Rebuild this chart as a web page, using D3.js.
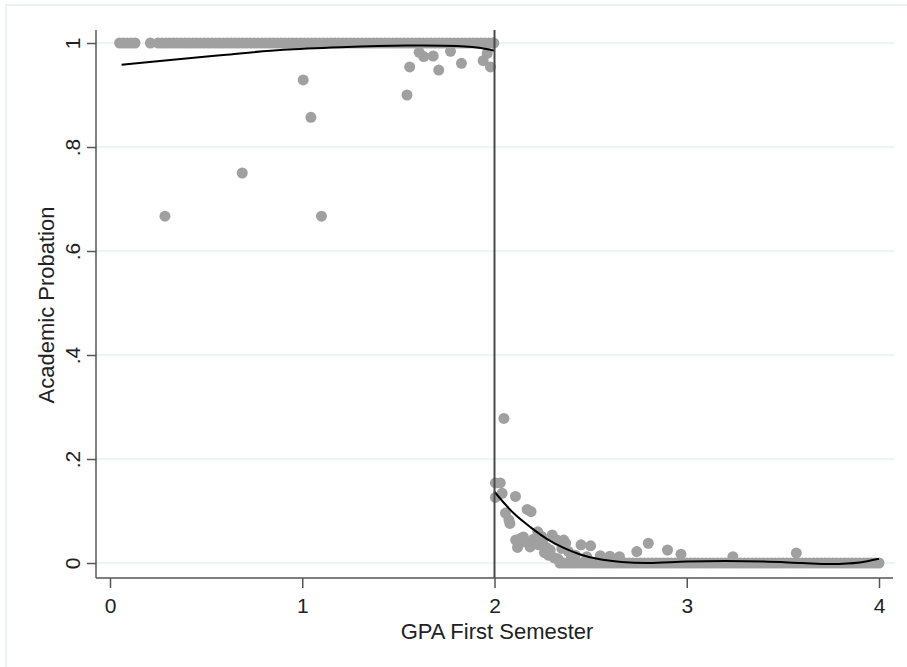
<!DOCTYPE html>
<html>
<head>
<meta charset="utf-8">
<script src="https://cdn.jsdelivr.net/npm/d3@7"></script>
<style>
  html, body { margin: 0; padding: 0; background: #fff; }
  svg { display: block; }
  text { font-family: "Liberation Sans", Arial, sans-serif; fill: #222; }
</style>
</head>
<body>
<svg id="chart" width="907" height="667"></svg>
<script>
// ---------------- data ----------------
const xTicks = [0, 1, 2, 3, 4];
const xTickLabels = ["0", "1", "2", "3", "4"];
const yTicks = [0, 0.2, 0.4, 0.6, 0.8, 1];
const yTickLabels = ["0", ".2", ".4", ".6", ".8", "1"];
const xTitle = "GPA First Semester";
const yTitle = "Academic Probation";
const cutoff = 2;

// binned means, left of cutoff, all on probation (=1)
const leftOnesX = [0.05, 0.07, 0.09, 0.11, 0.13, 0.21,
  0.25, 0.27, 0.29, 0.31, 0.33, 0.35, 0.37, 0.39, 0.41, 0.43, 0.45, 0.47, 0.49,
  0.51, 0.53, 0.55, 0.57, 0.59, 0.61, 0.63, 0.65, 0.67, 0.69, 0.71, 0.73, 0.75,
  0.77, 0.79, 0.81, 0.83, 0.85, 0.87, 0.89, 0.91, 0.93, 0.95, 0.97, 0.99, 1.01,
  1.03, 1.05, 1.07, 1.09, 1.11, 1.13, 1.15, 1.17, 1.19, 1.21, 1.23, 1.25, 1.27,
  1.29, 1.31, 1.33, 1.35, 1.37, 1.39, 1.41, 1.43, 1.45, 1.47, 1.49, 1.51, 1.53,
  1.55, 1.57, 1.59, 1.61, 1.63, 1.65, 1.67, 1.69, 1.71, 1.73, 1.75, 1.77, 1.79,
  1.81, 1.83, 1.85, 1.87, 1.89, 1.91, 1.93, 1.95, 1.97, 1.99];
const leftOnesY = leftOnesX.map(() => 1);

// binned means, left of cutoff, below one
const leftOtherX = [0.286, 0.688, 1.005, 1.045, 1.100, 1.545, 1.559, 1.608, 1.632,
  1.681, 1.710, 1.771, 1.828, 1.941, 1.962, 1.979, 1.996];
const leftOtherY = [0.667, 0.750, 0.929, 0.857, 0.667, 0.900, 0.954, 0.982, 0.974,
  0.975, 0.948, 0.984, 0.961, 0.966, 0.980, 0.954, 1.000];

// binned means, right of cutoff
const rightX = [2.005, 2.030, 2.005, 2.040, 2.049, 2.109, 2.057, 2.075, 2.080, 2.170,
  2.190, 2.110, 2.135, 2.160, 2.185, 2.210, 2.120, 2.150, 2.225, 2.245, 2.280, 2.300,
  2.325, 2.360, 2.350, 2.385, 2.420, 2.450, 2.500, 2.270, 2.290, 2.400, 2.480, 2.550,
  2.600, 2.650, 2.740, 2.800, 2.900, 2.970, 3.240, 3.570, 2.200, 2.260, 2.310, 2.330,
  2.140, 2.230, 2.250, 2.370];
const rightY = [0.154, 0.154, 0.126, 0.134, 0.278, 0.128, 0.096, 0.083, 0.076, 0.103,
  0.099, 0.044, 0.047, 0.041, 0.031, 0.038, 0.030, 0.050, 0.060, 0.051, 0.015, 0.054,
  0.044, 0.044, 0.028, 0.022, 0.015, 0.035, 0.033, 0.030, 0.025, 0.010, 0.012, 0.014,
  0.013, 0.012, 0.022, 0.038, 0.025, 0.017, 0.012, 0.019, 0.045, 0.020, 0.010, 0.008,
  0.040, 0.035, 0.042, 0.038];

// right of cutoff, bins at zero
const rightZeroX = [2.34, 2.36, 2.38, 2.40, 2.42, 2.44, 2.46, 2.48, 2.50, 2.52, 2.54,
  2.56, 2.58, 2.60, 2.62, 2.64, 2.66, 2.68, 2.70, 2.72, 2.74, 2.76, 2.78, 2.80, 2.82,
  2.84, 2.86, 2.88, 2.90, 2.92, 2.94, 2.96, 2.98, 3.00, 3.02, 3.04, 3.06, 3.08, 3.10,
  3.12, 3.14, 3.16, 3.18, 3.20, 3.22, 3.24, 3.26, 3.28, 3.30, 3.32, 3.34, 3.36, 3.38,
  3.40, 3.42, 3.44, 3.46, 3.48, 3.50, 3.52, 3.54, 3.56, 3.58, 3.60, 3.62, 3.64, 3.66,
  3.68, 3.70, 3.72, 3.74, 3.76, 3.78, 3.80, 3.82, 3.84, 3.86, 3.88, 3.90, 3.92, 3.94,
  3.96, 3.98, 4.00];
const rightZeroY = rightZeroX.map(() => 0);

// local polynomial fits
const fitLeftX = [0.06, 0.30, 0.59, 0.90, 1.20, 1.545, 1.806, 1.95, 2.0];
const fitLeftY = [0.958, 0.967, 0.977, 0.987, 0.992, 0.995, 0.994, 0.989, 0.985];
const fitRightX = [2.0, 2.10, 2.19, 2.27, 2.36, 2.45, 2.535, 2.66, 2.80, 3.0, 3.2, 3.4, 3.6, 3.75, 3.9, 4.0];
const fitRightY = [0.137, 0.0955, 0.068, 0.047, 0.029, 0.016, 0.008, 0.002, 0.0, 0.003, 0.004, 0.003, 0.0, -0.002, 0.001, 0.008];

// ---------------- drawing ----------------
const svg = d3.select("#chart");

// outer graph region frame
svg.append("rect")
  .attr("x", 6).attr("y", 5).attr("width", 920).attr("height", 700)
  .attr("fill", "#fff").attr("stroke", "#e6eef0").attr("stroke-width", 1.5);

const plotLeft = 96, plotRight = 895, plotTop = 30, plotBottom = 578;

const x = d3.scaleLinear().domain([0, 4]).range([110, 879]);
const y = d3.scaleLinear().domain([0, 1]).range([563, 43]);

// gridlines
svg.append("g").selectAll("line").data(yTicks).join("line")
  .attr("x1", plotLeft).attr("x2", plotRight)
  .attr("y1", d => y(d)).attr("y2", d => y(d))
  .attr("stroke", "#eaf2f3").attr("stroke-width", 1.5);

// points
const pts = [];
leftOnesX.forEach((v, i) => pts.push([v, leftOnesY[i]]));
leftOtherX.forEach((v, i) => pts.push([v, leftOtherY[i]]));
rightZeroX.forEach((v, i) => pts.push([v, rightZeroY[i]]));
rightX.forEach((v, i) => pts.push([v, rightY[i]]));

svg.append("g").selectAll("circle").data(pts).join("circle")
  .attr("cx", d => x(d[0])).attr("cy", d => y(d[1]))
  .attr("r", 5.5).attr("fill", "#a0a0a0");

// fitted lines
const line = d3.line().x(d => x(d[0])).y(d => y(d[1])).curve(d3.curveCatmullRom.alpha(0.5));
svg.append("path")
  .datum(fitLeftX.map((v, i) => [v, fitLeftY[i]]))
  .attr("d", line).attr("fill", "none").attr("stroke", "#000").attr("stroke-width", 2);
svg.append("path")
  .datum(fitRightX.map((v, i) => [v, fitRightY[i]]))
  .attr("d", line).attr("fill", "none").attr("stroke", "#000").attr("stroke-width", 2);

// cutoff line
svg.append("line")
  .attr("x1", x(cutoff)).attr("x2", x(cutoff))
  .attr("y1", plotTop).attr("y2", plotBottom)
  .attr("stroke", "#4a4a4a").attr("stroke-width", 2);

// y axis
const yAxis = d3.axisLeft(y).tickValues(yTicks)
  .tickFormat((d, i) => yTickLabels[i]).tickSize(9).tickSizeOuter(0);
const gy = svg.append("g").attr("transform", `translate(${plotLeft},0)`).call(yAxis);
gy.select(".domain").remove();
gy.append("line").attr("x1", 0).attr("x2", 0).attr("y1", plotTop).attr("y2", plotBottom)
  .attr("stroke", "#555").attr("stroke-width", 1.5);
gy.selectAll(".tick line").attr("stroke", "#555").attr("stroke-width", 1.5);
gy.selectAll(".tick text")
  .attr("x", null).attr("dy", null)
  .attr("transform", "translate(-16,0) rotate(-90)")
  .attr("text-anchor", "middle")
  .style("font-size", "21px").style("font-family", "'Liberation Sans', Arial, sans-serif")
  .attr("fill", "#222");

// x axis
const xAxis = d3.axisBottom(x).tickValues(xTicks)
  .tickFormat((d, i) => xTickLabels[i]).tickSize(10).tickSizeOuter(0);
const gx = svg.append("g").attr("transform", `translate(0,${plotBottom})`).call(xAxis);
gx.select(".domain").remove();
gx.append("line").attr("x1", plotLeft).attr("x2", plotRight - 2).attr("y1", 0).attr("y2", 0)
  .attr("stroke", "#555").attr("stroke-width", 1.5);
gx.selectAll(".tick line").attr("stroke", "#555").attr("stroke-width", 1.5);
gx.selectAll(".tick text")
  .attr("y", 35).attr("dy", null)
  .style("font-size", "21px").style("font-family", "'Liberation Sans', Arial, sans-serif")
  .attr("fill", "#222");

// axis titles
svg.append("text")
  .attr("x", 497).attr("y", 639)
  .attr("text-anchor", "middle")
  .style("font-size", "22px")
  .text(xTitle);
svg.append("text")
  .attr("transform", "translate(54,305) rotate(-90)")
  .attr("text-anchor", "middle")
  .style("font-size", "22px")
  .text(yTitle);
</script>
</body>
</html>
